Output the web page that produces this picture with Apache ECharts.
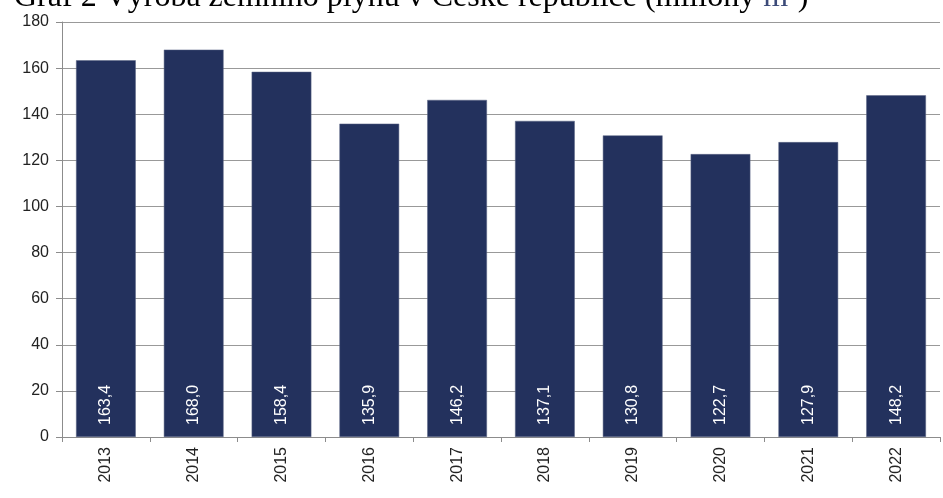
<!DOCTYPE html>
<html>
<head>
<meta charset="utf-8">
<script src="https://cdn.jsdelivr.net/npm/echarts@6/dist/echarts.min.js"></script>
<style>
  html, body { margin: 0; padding: 0; background: #fff; }
  #main { width: 943px; height: 498px; }
</style>
</head>
<body>
<div id="main"></div>
<script>
// data
const years = ['2013', '2014', '2015', '2016', '2017', '2018', '2019', '2020', '2021', '2022'];
const production = [163.4, 168.0, 158.4, 135.9, 146.2, 137.1, 130.8, 122.7, 127.9, 148.2];
const titleMain = 'Graf 2 Výroba zemního plynu v České republice (miliony ';
const titleUnit = 'm³';

const myChart = echarts.init(document.getElementById('main'));
const chartOpts = {
  animation: false,
  title: {
    text: '{a|' + titleMain + '}{b|' + titleUnit + '}{a|)}',
    left: 9,
    top: -23,
    textStyle: {
      fontWeight: 'normal',
      rich: {
        a: { fontFamily: 'Liberation Serif', fontWeight: 'normal', fontSize: 32, color: '#000' },
        b: { fontFamily: 'Liberation Serif', fontWeight: 'normal', fontSize: 32, color: '#3b4a78' }
      }
    }
  },
  grid: { left: 62, right: 3, top: 22, bottom: 61 },
  xAxis: {
    type: 'category',
    data: years,
    axisLine: { lineStyle: { color: '#8c8c8c', width: 1 } },
    axisTick: { show: true, length: 5, lineStyle: { color: '#8c8c8c' } },
    axisLabel: {
      rotate: 90,
      margin: 10,
      fontFamily: 'Liberation Sans',
      fontSize: 16,
      color: '#222'
    }
  },
  yAxis: {
    type: 'value',
    min: 0,
    max: 180,
    interval: 20,
    axisLine: { show: true, lineStyle: { color: '#8c8c8c', width: 1 } },
    axisTick: { show: true, length: 6, lineStyle: { color: '#8c8c8c' } },
    splitLine: { lineStyle: { color: '#999', width: 1 } },
    axisLabel: {
      margin: 13,
      fontFamily: 'Liberation Sans',
      fontSize: 16,
      color: '#222'
    }
  },
  series: [
    {
      type: 'bar',
      data: production,
      barWidth: '68%',
      itemStyle: { color: '#23315d', borderColor: '#5a6585', borderWidth: 0.5 },
      label: {
        show: true,
        position: 'insideBottom',
        distance: 12,
        rotate: 90,
        align: 'left',
        verticalAlign: 'middle',
        fontFamily: 'Liberation Sans',
        fontSize: 16,
        color: '#fff',
        formatter: p => p.value.toFixed(1).replace('.', ',')
      }
    }
  ]
};
myChart.setOption(chartOpts);
</script>
</body>
</html>
